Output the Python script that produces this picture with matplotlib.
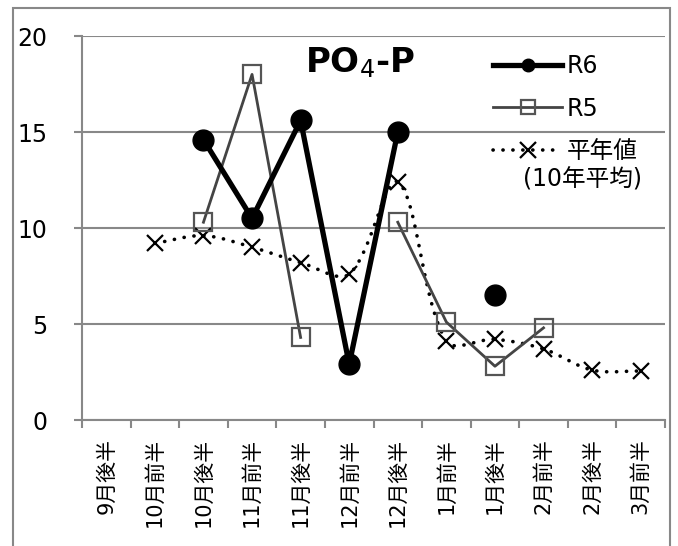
import numpy as np
import matplotlib
matplotlib.use('Agg')
import matplotlib.pyplot as plt
from matplotlib.lines import Line2D
from matplotlib.patches import Rectangle

plt.rcParams['font.family'] = ['DejaVu Sans', 'Noto Sans CJK JP']

categories = ['9月後半', '10月前半', '10月後半', '11月前半', '11月後半', '12月前半',
              '12月後半', '1月前半', '1月後半', '2月前半', '2月後半', '3月前半']
nan = np.nan
r6 = [nan, nan, 14.6, 10.5, 15.6, 2.9, 15.0, nan, 6.5, nan, nan, nan]
r5 = [nan, nan, 10.3, 18.0, 4.3, nan, 10.3, 5.1, 2.8, 4.8, nan, nan]
normal = [nan, 9.2, 9.6, 9.0, 8.2, 7.6, 12.4, 4.1, 4.2, 3.7, 2.6, 2.55]

GRAY = '#888888'


def smooth(x, y, xs_px, ys_px, n=24):
	# bezier curve through the points, handles sized by the neighbouring
	# segment lengths on screen (close to excel's smoothed line)
	P = np.column_stack([np.asarray(x, float) * xs_px, np.asarray(y, float) * ys_px])
	m = len(P)
	hin = np.zeros_like(P)
	hout = np.zeros_like(P)
	for i in range(m):
		a = P[max(i - 1, 0)]
		b = P[min(i + 1, m - 1)]
		din = np.linalg.norm(P[i] - a)
		dout = np.linalg.norm(b - P[i])
		tot = din + dout
		if tot == 0:
			continue
		hin[i] = (b - a) * din / tot / 3
		hout[i] = (b - a) * dout / tot / 3
	t = np.linspace(0, 1, n)[:, None]
	pts = []
	for i in range(m - 1):
		p0 = P[i]
		p1 = P[i] + hout[i]
		p2 = P[i + 1] - hin[i + 1]
		p3 = P[i + 1]
		seg = ((1 - t) ** 3) * p0 + 3 * ((1 - t) ** 2) * t * p1 + \
			3 * (1 - t) * t ** 2 * p2 + t ** 3 * p3
		pts.append(seg if i == 0 else seg[1:])
	pts = np.vstack(pts)
	return pts[:, 0] / xs_px, pts[:, 1] / ys_px


fig = plt.figure(figsize=(6.78, 5.46), dpi=100)
ax = fig.add_axes([82 / 678, 1 - 420 / 546, (665 - 82) / 678, (420 - 36) / 546])

x = np.arange(len(categories))

# 平年値 (smoothed dotted line)
nv = np.array(normal)
ok = ~np.isnan(nv)
sx, sy = smooth(x[ok], nv[ok], 583 / 12, 384 / 20)
ax.plot(sx, sy, color='black', lw=2.6, linestyle=(0, (0.05, 2.7)),
	dash_capstyle='round', zorder=3)
ax.plot(x[ok], nv[ok], linestyle='none', marker='x', ms=11, mew=1.6,
	color='black', zorder=3)

# R5
ax.plot(x, r5, color='#444444', lw=2.0, marker='s', ms=13, mfc='none',
	mec='#555555', mew=1.6, zorder=4)

# R6
ax.plot(x, r6, color='black', lw=3.8, marker='o', ms=15, zorder=5)

ax.set_xlim(-0.5, len(categories) - 0.5)
ax.set_ylim(0, 20)
ax.set_yticks([0, 5, 10, 15, 20])
ax.yaxis.grid(True, color=GRAY, lw=1.5)
ax.set_axisbelow(True)
ax.set_xticks(x)
ax.set_xticklabels(categories, rotation=90, fontsize=15, va='top')
ax.set_xticks(np.arange(-0.5, len(categories)), minor=True)
ax.tick_params(axis='x', which='major', length=0, pad=13)
ax.tick_params(axis='x', which='minor', length=6, width=1.5, color=GRAY)
ax.tick_params(axis='y', length=6, width=1.5, color=GRAY, pad=19, labelsize=17)
for s in ['top', 'right']:
	ax.spines[s].set_visible(False)
for s in ['left', 'bottom']:
	ax.spines[s].set_color(GRAY)
	ax.spines[s].set_linewidth(1.5)

ax.text(0.477, 0.93, 'PO$_4$-P', transform=ax.transAxes, ha='center', va='center',
	fontsize=24.5, fontweight='bold')

handles = [
	Line2D([], [], color='black', lw=3.8, marker='o', ms=9),
	Line2D([], [], color='#444444', lw=2.0, marker='s', ms=10, mfc='none',
		mec='#555555', mew=1.6),
	Line2D([], [], color='black', lw=2.6, linestyle=(0, (0.05, 2.7)),
		dash_capstyle='round', marker='x', ms=11, mew=1.6),
]
ax.legend(handles, ['R6', 'R5', '平年値'], loc='upper left',
	bbox_to_anchor=(0.689, 0.977), frameon=False, fontsize=17,
	handlelength=2.92, handletextpad=0.2, labelspacing=0.78, borderaxespad=0)
ax.text(0.756, 0.625, '(10年平均)', transform=ax.transAxes, ha='left', va='center',
	fontsize=17)

fig.add_artist(Rectangle((13 / 678, -0.1), (670 - 13) / 678, 1.1 - 8 / 546,
	transform=fig.transFigure, fill=False, ec=GRAY, lw=1.5))

fig.savefig('out.png', dpi=100)
